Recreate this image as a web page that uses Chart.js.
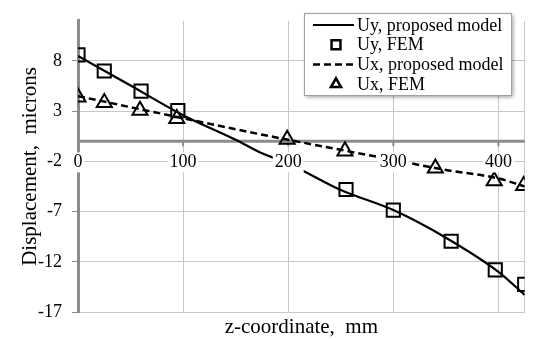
<!DOCTYPE html>
<html>
<head>
<meta charset="utf-8">
<script src="https://cdn.jsdelivr.net/npm/chart.js@4"></script>
<style>
  body { margin: 0; background: #fff; }
  #wrap { width: 536px; height: 340px; }
</style>
</head>
<body>
<div id="wrap"><canvas id="chart" width="536" height="340"></canvas></div>
<script>
// data
let uyModelZ = [0, 50, 100, 150, 175, 200, 250, 300, 350, 400, 425]
let uyModelV = [8.5, 5.55, 2.6, 0.15, -1.2, -2.2, -4.85, -6.85, -9.6, -13.0, -15.3]
let uyFemZ = [0, 25, 60, 95, 255, 300, 355, 397, 425]
let uyFemV = [8.6, 7.0, 5.0, 3.05, -4.8, -6.85, -9.95, -12.8, -14.25]
let uxModelZ = [0, 50, 100, 150, 200, 250, 300, 350, 400, 425]
let uxModelV = [4.5, 3.4, 2.3, 1.2, 0.15, -0.85, -1.85, -2.85, -3.7, -4.5]
let uxFemZ = [0, 25, 59, 94, 199, 254, 340, 396, 424]
let uxFemV = [4.4, 3.85, 3.07, 2.26, 0.19, -0.97, -2.67, -3.95, -4.42]

let xLabels = [0, 100, 200, 300, 400]
let xGrid = [100, 200, 300, 400, 425]
let yTicks = [-17, -12, -7, -2, 3, 8]

const FONT = 'Liberation Serif'

function pts(zs, vs){
    return zs.map((z, i) => ({x: z, y: vs[i]}))
}

const decor = {
    id: 'decor',
    beforeDatasetsDraw(chart){
        const {ctx, chartArea: a, scales: {x, y}} = chart
        const y0 = y.getPixelForValue(0)
        ctx.save()
        ctx.strokeStyle = '#8c8c8c'
        ctx.lineWidth = 3
        ctx.beginPath()
        ctx.moveTo(a.left, y0)
        ctx.lineTo(a.right, y0)
        ctx.stroke()
        ctx.lineWidth = 2
        ctx.beginPath()
        xLabels.forEach(v => {
            if(v > 0){
                const px = x.getPixelForValue(v)
                ctx.moveTo(px, y0)
                ctx.lineTo(px, y0 + 5)
            }
        })
        ctx.stroke()
        ctx.restore()
    },
    afterDatasetsDraw(chart){
        // x labels sit on the -2 line with a white box behind them
        const {ctx, scales: {x, y}} = chart
        const py = y.getPixelForValue(-2) + 1
        ctx.save()
        ctx.font = '18px "' + FONT + '"'
        ctx.textAlign = 'center'
        ctx.textBaseline = 'middle'
        xLabels.forEach(v => {
            const px = x.getPixelForValue(v)
            const t = String(v)
            const w = ctx.measureText(t).width
            ctx.fillStyle = '#fff'
            ctx.fillRect(px - w / 2 - 2, py - 10, w + 4, 20)
            ctx.fillStyle = '#000'
            ctx.fillText(t, px, py)
        })
        ctx.restore()
    },
    afterDraw(chart){
        // legend box
        const ctx = chart.ctx
        const bx = 304, by = 13, bw = 207, bh = 82
        ctx.save()
        ctx.shadowColor = 'rgba(0,0,0,0.4)'
        ctx.shadowBlur = 4
        ctx.shadowOffsetX = 2
        ctx.shadowOffsetY = 2
        ctx.fillStyle = '#fff'
        ctx.fillRect(bx, by, bw, bh)
        ctx.restore()
        ctx.save()
        ctx.strokeStyle = '#a0a0a0'
        ctx.lineWidth = 1
        ctx.strokeRect(bx + 0.5, by + 0.5, bw, bh)
        ctx.font = '18px "' + FONT + '"'
        ctx.textBaseline = 'middle'
        chart.data.datasets.forEach((ds, i) => {
            const cy = 25 + i * 19.7
            ctx.strokeStyle = '#000'
            if(ds.showLine){
                ctx.lineWidth = ds.borderWidth
                ctx.setLineDash(ds.borderDash || [])
                ctx.beginPath()
                ctx.moveTo(313, cy)
                ctx.lineTo(354, cy)
                ctx.stroke()
                ctx.setLineDash([])
            } else {
                ctx.fillStyle = '#fff'
                ctx.lineWidth = 2.5
                Chart.helpers.drawPoint(ctx, {
                    pointStyle: ds.pointStyle,
                    radius: ds.pointStyle === 'rect' ? 6.3 : 5.8,
                    borderWidth: 2.5
                }, 336, cy)
            }
            ctx.fillStyle = '#000'
            ctx.fillText(ds.label, 357, cy + 1)
        })
        ctx.restore()
    }
}

var ctx = document.getElementById('chart')

var chartGraph = new Chart(ctx, {
    type: 'scatter',
    data: {
        datasets: [{
            label: 'Uy, proposed model',
            data: pts(uyModelZ, uyModelV),
            showLine: true,
            borderColor: '#000',
            borderWidth: 2.2,
            pointRadius: 0,
            cubicInterpolationMode: 'monotone'
        }, {
            label: 'Uy, FEM',
            data: pts(uyFemZ, uyFemV),
            showLine: false,
            pointStyle: 'rect',
            pointRadius: 9.3,
            pointBorderWidth: 2,
            pointBorderColor: '#000',
            pointBackgroundColor: 'rgba(0,0,0,0)'
        }, {
            label: 'Ux, proposed model',
            data: pts(uxModelZ, uxModelV),
            showLine: true,
            borderColor: '#000',
            borderWidth: 2.5,
            borderDash: [7, 4],
            pointRadius: 0,
            cubicInterpolationMode: 'monotone'
        }, {
            label: 'Ux, FEM',
            data: pts(uxFemZ, uxFemV),
            showLine: false,
            pointStyle: 'triangle',
            pointRadius: 8.7,
            pointBorderWidth: 2,
            pointBorderColor: '#000',
            pointBackgroundColor: 'rgba(0,0,0,0)'
        }]
    },
    options: {
        responsive: false,
        animation: false,
        layout: {padding: {top: 9, right: 9, left: 0, bottom: 0}},
        plugins: {
            legend: {display: false},
            tooltip: {enabled: false}
        },
        scales: {
            x: {
                type: 'linear',
                min: 0,
                max: 425,
                afterBuildTicks: s => { s.ticks = xGrid.map(v => ({value: v})) },
                afterFit: s => { s.height = 28 },
                grid: {color: '#c8c8c8', drawTicks: false},
                border: {display: false},
                ticks: {display: false},
                title: {
                    display: true,
                    text: 'z-coordinate,  mm',
                    color: '#000',
                    font: {family: FONT, size: 21},
                    padding: 0
                }
            },
            y: {
                type: 'linear',
                min: -17,
                max: 12,
                afterBuildTicks: s => { s.ticks = yTicks.map(v => ({value: v})) },
                afterFit: s => { s.width = 78 },
                grid: {color: '#c8c8c8', tickLength: 6, tickColor: '#8c8c8c'},
                border: {color: '#8c8c8c', width: 3},
                ticks: {color: '#000', font: {family: FONT, size: 18}, padding: 10},
                title: {
                    display: true,
                    text: 'Displacement,  microns',
                    color: '#000',
                    font: {family: FONT, size: 21},
                    padding: {top: 18, bottom: 0}
                }
            }
        }
    },
    plugins: [decor]
})
</script>
</body>
</html>
